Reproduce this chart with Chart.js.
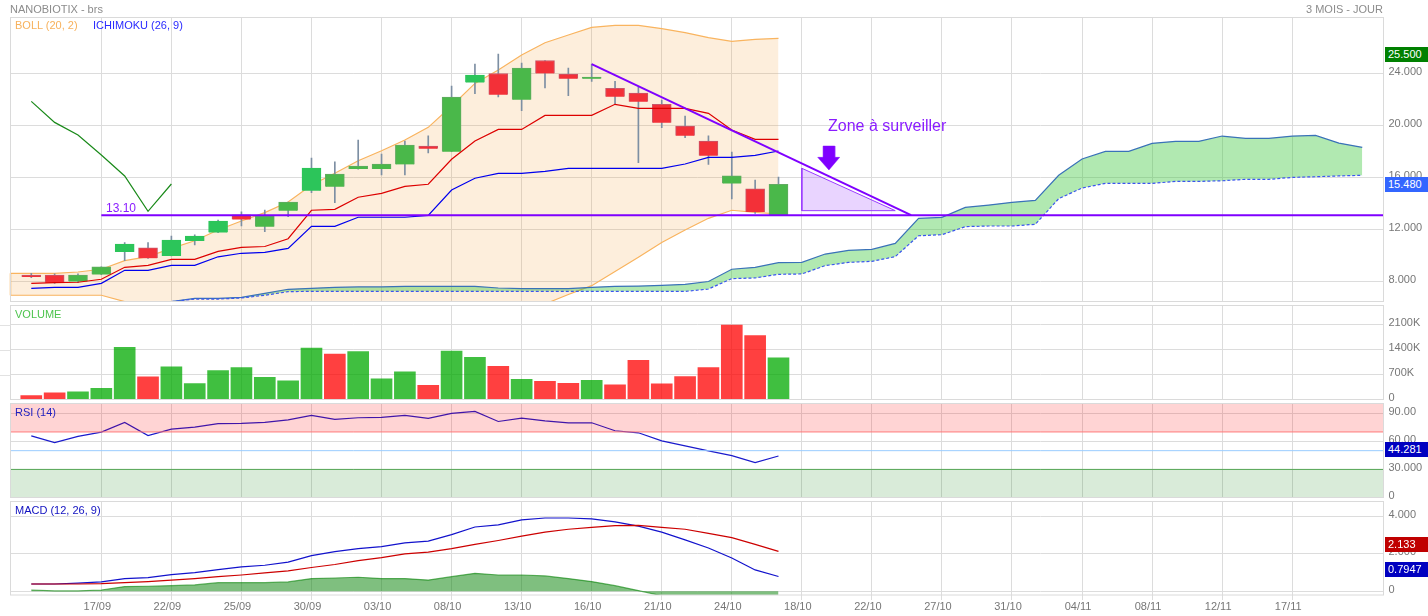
<!DOCTYPE html>
<html><head><meta charset="utf-8">
<script src="https://cdn.jsdelivr.net/npm/chart.js@4/dist/chart.umd.min.js"></script>
<style>
html,body{margin:0;padding:0;background:#fff;width:1428px;height:616px;overflow:hidden;font-family:"Liberation Sans",Arial,sans-serif}
canvas{position:absolute;left:0}
.t{position:absolute;white-space:nowrap;font-size:11px;line-height:13px}
.b{position:absolute;left:1385px;width:43px;height:15px;line-height:15px;font-size:11px;color:#fff;padding-left:3px;box-sizing:border-box}
</style></head><body>
<canvas id="cMain" width="1428" height="304" style="top:0"></canvas>
<canvas id="cVol" width="1428" height="98" style="top:303px"></canvas>
<canvas id="cRsi" width="1428" height="98" style="top:401px"></canvas>
<canvas id="cMacd" width="1428" height="117" style="top:499px"></canvas>
<div class="t" style="left:10px;top:3px;color:#8c8c8c">NANOBIOTIX - brs</div>
<div class="t" style="right:45px;top:3px;color:#8c8c8c">3 MOIS - JOUR</div>
<div class="t" style="left:15px;top:19px;color:#f7b15c">BOLL (20, 2)</div>
<div class="t" style="left:93px;top:19px;color:#2a2aff">ICHIMOKU (26, 9)</div>
<div class="t" style="left:106px;top:202px;color:#8a1cff;font-size:12px">13.10</div>
<div class="t" style="left:828px;top:116px;color:#8a1cff;font-size:16px;line-height:20px">Zone à surveiller</div>
<div class="t" style="left:15px;top:308px;color:#4ec44e">VOLUME</div>
<div class="t" style="left:15px;top:406px;color:#1f1fc0">RSI (14)</div>
<div class="t" style="left:15px;top:504px;color:#1010c0">MACD (12, 26, 9)</div>
<div class="b" style="top:47px;background:#008000">25.500</div>
<div class="b" style="top:177px;background:#3366ff">15.480</div>
<div class="b" style="top:442px;background:#0000c0">44.281</div>
<div class="b" style="top:537px;background:#c00000">2.133</div>
<div class="b" style="top:562px;background:#0000c0">0.7947</div>
<script>
// ---------- categories ----------
const xTickIndex=[3,6,9,12,15,18,21,24,27,30,33,36,39,42,45,48,51,54];
const xTickLabels=["17/09","22/09","25/09","30/09","03/10","08/10","13/10","16/10","21/10","24/10","18/10","22/10","27/10","31/10","04/11","08/11","12/11","17/11"];
const xMin=-0.89, xMax=57.91;
// ---------- candles ----------
const open=[8.50,8.50,7.99,8.53,10.27,10.58,9.96,11.12,11.76,13.12,12.22,13.45,14.99,15.29,16.65,16.65,17.0,18.42,17.99,23.3,24,21.99,25,23.96,23.6,22.86,22.5,21.63,19.96,18.8,15.53,15.12,13.1];
const close=[8.35,7.91,8.50,9.12,10.88,9.78,11.19,11.5,12.65,12.76,13.04,14.1,16.73,16.27,16.88,17.04,18.5,18.22,22.19,23.88,22.37,24.42,24,23.6,23.73,22.22,21.83,20.22,19.22,17.68,16.12,13.35,15.48];
const high=[8.63,8.58,8.58,9.12,10.99,10.99,11.5,11.58,12.73,13.35,13.5,14.1,17.5,17.2,18.88,17.8,18.8,19.2,23.04,24.73,25.5,24.8,25,24.42,24.73,23.4,22.94,21.96,20.73,19.2,17.96,15.8,16.04];
const low=[8.29,7.86,7.91,8.53,9.60,9.78,9.96,10.81,11.76,12.27,11.83,12.99,14.83,14.06,16.65,16.2,16.2,17.9,17.99,22.45,22.2,21.14,22.9,22.3,23.4,21.63,17.14,19.83,19.06,17.0,14.35,13.24,13.1];
const brightGreen=[4,6,7,8,12,19];
// ---------- overlays ----------
const bollUpper=[8.63,8.63,8.73,8.94,9.6,9.91,10.55,11.13,11.96,12.65,13.3,14.12,15.42,16.32,17.29,18.06,18.88,19.86,21.5,23.24,24.27,25.42,26.37,26.96,27.55,27.71,27.71,27.45,27.14,26.76,26.47,26.63,26.71];
const bollLower=[6.94,6.94,6.94,6.94,6.45,6.0,5.7,5.4,5.2,5.0,4.8,4.6,4.3,4.2,4.1,4.1,4.2,4.3,4.5,4.8,5.1,5.5,6.27,7.0,7.68,8.76,9.86,11.0,11.96,12.86,13.48,13.32,13.19];
const tenkan=[7.86,7.91,7.94,8.17,9.09,9.24,9.7,9.7,10.32,10.63,10.69,11.29,13.48,13.55,14.48,14.78,15.32,15.48,17.4,18.81,19.7,19.7,20.78,20.78,20.78,21.63,21.32,21.32,21.32,20.94,19.65,18.94,18.94];
const kijun=[7.47,7.55,7.55,7.86,8.86,8.86,9.24,9.24,9.9,10.17,10.24,10.55,12.24,12.24,12.94,12.94,12.94,13.09,15.04,15.94,16.32,16.32,16.47,16.7,16.7,16.7,16.7,16.7,17.04,17.55,17.55,17.7,18.04];
const chikou=[21.86,20.24,19.27,17.73,16.12,13.4,15.5];
const senkouStart=6;
const senkouA=[6.45,6.7,6.7,6.78,7.09,7.4,7.47,7.55,7.58,7.58,7.63,7.63,7.63,7.63,7.5,7.45,7.45,7.45,7.55,7.63,7.65,7.7,7.78,8.0,8.94,9.09,9.45,9.47,10.11,10.4,10.47,10.93,12.86,12.93,13.7,13.88,14.09,14.24,16.17,17.42,18.01,18.01,18.63,18.78,18.78,19.19,19.01,19.01,19.19,19.24,18.65,18.32];
const senkouB=[6.45,6.65,6.65,6.73,6.94,7.22,7.24,7.24,7.24,7.24,7.24,7.24,7.24,7.24,7.24,7.24,7.24,7.24,7.24,7.24,7.24,7.24,7.24,7.42,8.22,8.27,8.55,8.58,9.22,9.47,9.55,9.91,11.52,11.6,12.22,12.27,12.27,12.4,14.37,15.19,15.55,15.55,15.55,15.7,15.7,15.75,15.86,15.86,16.01,16.06,16.12,16.17];
// ---------- drawn annotations (chart coordinates) ----------
const supportX=[3,xMax], supportY=[13.1,13.1];
const trendX=[24,37.68], trendY=[24.73,13.1];
const triangleX=[33,33,37,33], triangleY=[16.71,13.45,13.45,16.71];
const arrowX=[33.91,34.41,34.41,34.62,34.16,33.68,33.91,33.91], arrowY=[18.42,18.42,17.55,17.55,16.58,17.55,17.55,18.42];
// ---------- volume ----------
const volume=[112,187,215,317,1465,635,915,448,812,896,625,523,1447,1279,1344,579,775,401,1363,1185,933,569,513,457,541,411,1101,439,644,896,2091,1792,1167];
const volumeRed=[0,1,5,13,17,20,22,23,25,26,27,28,29,30,31];
// ---------- RSI ----------
const rsi=[65.9,58.7,65.2,69.8,80.2,66.2,73.0,75.2,78.8,79.1,80.2,83.0,87.7,83.4,85.2,85.5,87.7,84.5,89.8,92,81.2,84.8,81.9,79.8,79.8,71.3,69.1,60.5,55.2,49.8,44.8,37.3,44.28];
// ---------- MACD ----------
const macd=[0.39,0.39,0.44,0.50,0.68,0.73,0.89,1.0,1.16,1.30,1.39,1.56,1.90,2.12,2.28,2.38,2.58,2.68,3.02,3.43,3.54,3.81,3.91,3.91,3.86,3.70,3.48,3.16,2.74,2.31,1.78,1.14,0.79];
const signal=[0.39,0.39,0.39,0.41,0.46,0.52,0.60,0.68,0.78,0.87,0.98,1.09,1.27,1.43,1.64,1.80,2.0,2.09,2.28,2.50,2.71,2.94,3.16,3.31,3.41,3.50,3.52,3.41,3.31,3.09,2.86,2.50,2.13];
const histogram=[.07,.02,.02,.07,.25,.27,.30,.34,.46,.46,.46,.50,.68,.71,.75,.68,.68,.60,.78,.96,.87,.87,.82,.68,.52,.30,.04,-.24,-.55,-.78,-1.05,-1.3,-1.34];
// ---------- y ticks ----------
const mainTicks=[8,12,16,20,24], mainLabels=["8.000","12.000","16.000","20.000","24.000"];
const volTicks=[0,700,1400,2100], volLabels=["0","700K","1400K","2100K"];
const rsiTicks=[0,30,60,90], rsiLabels=["0","30.000","60.00","90.00"];
const macdTicks=[0,2,4], macdLabels=["0","2.000","4.000"];

const GRID='#dcdcdc', TICK='#777', FONT={family:'"Liberation Sans",Arial,sans-serif',size:11};
const pts=(ys,start=0)=>ys.map((y,i)=>({x:i+start,y}));
const xy=(xs,ys)=>xs.map((x,i)=>({x,y:ys[i]}));
const frame={id:'frame',afterDraw(c){const a=c.chartArea,x=c.ctx;x.save();x.strokeStyle='#dadada';x.lineWidth=1;x.strokeRect(a.left,a.top,a.right-a.left,a.bottom-a.top);x.restore();}};
const leftStubs={id:'leftStubs',afterDraw(c){const s=c.scales.y,x=c.ctx;x.save();x.strokeStyle='#e2e2e2';x.lineWidth=1;x.beginPath();s.ticks.forEach(t=>{if(t.value>0){const p=Math.round(s.getPixelForValue(t.value))+0.5;x.moveTo(0,p);x.lineTo(c.chartArea.left,p);}});x.stroke();x.restore();}};
const noPad=s=>{s.paddingTop=0;s.paddingBottom=0;s.paddingLeft=0;s.paddingRight=0;};

function make(id,datasets,yMin,yMax,ticks,labels,pad,isLast,extra=[]){
  new Chart(document.getElementById(id),{
    type:'line',
    data:{datasets},
    plugins:[frame,...extra],
    options:{
      responsive:false,animation:false,events:[],
      layout:{padding:{left:10.5,top:pad[0],bottom:pad[1],right:0}},
      plugins:{legend:{display:false},tooltip:{enabled:false}},
      elements:{point:{radius:0},line:{tension:0,borderWidth:1.2}},
      scales:{
        x:{type:'linear',offset:false,min:xMin,max:xMax,
          afterBuildTicks:s=>{s.ticks=xTickIndex.map(value=>({value}));},
          afterFit:s=>{s.height=isLast?21:0;noPad(s);},
          border:{display:false},
          grid:{color:GRID,offset:false,drawTicks:isLast,tickLength:5},
          ticks:{display:isLast,autoSkip:false,maxRotation:0,minRotation:0,padding:0,labelOffset:-4,color:TICK,font:FONT,
            callback:(v,i)=>xTickLabels[i]}},
        y:{type:'linear',position:'right',min:yMin,max:yMax,
          afterBuildTicks:s=>{s.ticks=ticks.map(value=>({value}));},
          afterFit:s=>{s.width=44.5;noPad(s);},
          border:{display:false},
          grid:{color:GRID,drawTicks:false},
          ticks:{autoSkip:false,padding:5,labelOffset:-1.5,color:TICK,font:FONT,callback:(v,i)=>labels[i]}}
      }
    }
  });
}

const PURPLE='#7f00ff';
const bodyTop=open.map((o,i)=>Math.max(o,close[i])), bodyBot=open.map((o,i)=>Math.min(o,close[i]));
make('cMain',[
  {label:'upper',data:[{x:xMin,y:bollUpper[0]},...pts(bollUpper)],borderColor:'#f9b45f',backgroundColor:'rgba(247,165,70,.19)',fill:1,order:20},
  {label:'lower',data:[{x:xMin,y:bollLower[0]},...pts(bollLower)],borderColor:'#f9b45f',order:19},
  {label:'edge',data:xy([xMin,xMin],[bollLower[0],bollUpper[0]]),borderColor:'#f9b45f',borderWidth:1.5,clip:false,order:19},
  {label:'senkouB',data:pts(senkouB,senkouStart),borderColor:'#3b55f0',borderDash:[3,2],order:17},
  {label:'senkouA',data:pts(senkouA,senkouStart),borderColor:'#3a72b8',backgroundColor:'rgba(60,200,60,.4)',fill:3,order:18},
  {type:'bar',label:'wick',data:high.map((h,i)=>({x:i,y:[low[i],h]})),backgroundColor:'#7d8fa3',barThickness:1,grouped:false,order:15},
  {type:'bar',label:'body',data:open.map((o,i)=>({x:i,y:[bodyBot[i],bodyTop[i]]})),
    backgroundColor:open.map((o,i)=>close[i]<o?'#f33038':(brightGreen.includes(i)?'#2cc55a':'#4ab84a')),
    borderColor:open.map((o,i)=>close[i]<o?'#c9566a':(brightGreen.includes(i)?'#2cc55a':'#62ab62')),
    borderWidth:1,barThickness:19,grouped:false,order:14},
  {label:'kijun',data:pts(kijun),borderColor:'#0000ee',order:10},
  {label:'tenkan',data:pts(tenkan),borderColor:'#dd0000',order:9},
  {label:'chikou',data:pts(chikou),borderColor:'#1a8a1a',order:8},
  {label:'triangle',data:xy(triangleX,triangleY),borderColor:'#9a3cff',borderWidth:1,backgroundColor:'rgba(127,0,255,.17)',fill:'shape',order:5},
  {label:'arrow',data:xy(arrowX,arrowY),borderColor:PURPLE,borderWidth:0.5,backgroundColor:PURPLE,fill:'shape',order:4},
  {label:'support',data:xy(supportX,supportY),borderColor:PURPLE,borderWidth:2,order:3},
  {label:'trend',data:xy(trendX,trendY),borderColor:PURPLE,borderWidth:2,order:2}
],6.46,28.31,mainTicks,mainLabels,[17.5,2.5],false);

make('cVol',[
  {type:'bar',label:'volume',data:pts(volume),backgroundColor:volume.map((v,i)=>volumeRed.includes(i)?'rgba(255,0,0,.75)':'rgba(0,170,0,.75)'),barThickness:21}
],0,2640,volTicks,volLabels,[2.5,1.5],false,[leftStubs]);

make('cRsi',[
  {label:'ob',data:xy([xMin,xMax],[70,70]),borderColor:'#ff7a7a',borderWidth:1,backgroundColor:'rgba(255,0,0,.17)',fill:'end'},
  {label:'os',data:xy([xMin,xMax],[30,30]),borderColor:'#55a855',borderWidth:1,backgroundColor:'rgba(0,120,0,.15)',fill:'start'},
  {label:'mid',data:xy([xMin,xMax],[50,50]),borderColor:'#99ccff',borderWidth:1},
  {label:'rsi',data:pts(rsi),borderColor:'#1a1acc'}
],0,100.4,rsiTicks,rsiLabels,[2.5,1.5],false);

make('cMacd',[
  {label:'hist',data:pts(histogram),borderColor:'rgba(0,128,0,.6)',backgroundColor:'rgba(0,128,0,.5)',fill:{value:0}},
  {label:'signal',data:pts(signal),borderColor:'#cc0000'},
  {label:'macd',data:pts(macd),borderColor:'#1212cc'}
],-0.197,4.79,macdTicks,macdLabels,[2.5,0],true);
</script>
</body></html>
